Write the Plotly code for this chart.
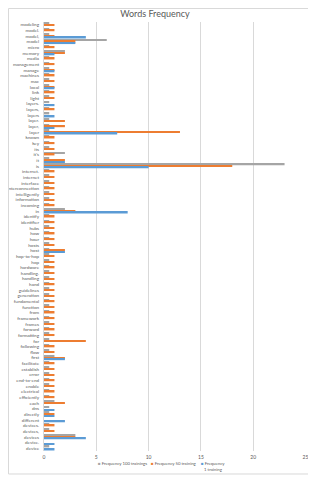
import plotly.graph_objects as go

categories = [
    "modeling", "model.", "model,", "model", "micro", "memory", "media", "management",
    "manage", "machines", "mac", "local", "link", "light", "layers.", "layers,", "layers",
    "layer.", "layer,", "layer", "known", "key", "its", "it's", "it", "is", "internet.",
    "internet", "interface", "interconnection", "intelligently", "information", "incoming",
    "in", "identify", "identifier", "hubs", "how", "hour", "hosts", "host", "hop-to-hop",
    "hop", "hardware", "handling.", "handling", "hand", "guidelines", "generation",
    "fundamental", "function", "from", "framework", "frames", "forward", "formatting",
    "for", "following", "flow", "first", "facilitate", "establish", "error", "end-to-end",
    "enable", "electrical", "efficiently", "each", "dns", "directly", "different",
    "devices.", "devices,", "devices", "device.", "device",
]

freq_100 = [
    0.5, 0.5, 0.5, 6, 0.5, 2, 0.5, 0.5, 0.5, 0.5, 0.5, 0.5, 0.5, 0.5, 0.5, 0.5, 0.5,
    0.5, 0.5, 0.5, 0.5, 0.5, 0.5, 2, 0.5, 23, 0.5, 0.5, 0.5, 0.5, 0.5, 0.5, 0.5,
    2, 0.5, 0.5, 0.5, 0.5, 0.5, 0.5, 0.5, 0.5, 0.5, 0.5, 0.5, 0.5, 0.5, 0.5, 0.5,
    0.5, 0.5, 0.5, 0.5, 0.5, 0.5, 0.5, 0.5, 0.5, 0.5, 1, 0.5, 0.5, 0.5, 0.5,
    0.5, 0.5, 0.5, 1, 0.5, 0.5, 0, 0.5, 0.5, 3, 0, 0.5,
]

freq_50 = [
    1, 1, 1, 3, 1, 2, 1, 1, 1, 1, 1, 1, 1, 1, 0, 1, 0,
    2, 2, 13, 1, 1, 1, 1, 2, 18, 1, 1, 1, 1, 1, 1, 1,
    3, 1, 1, 1, 1, 1, 1, 2, 1, 1, 1, 1, 1, 1, 1, 1,
    1, 1, 1, 1, 1, 1, 1, 4, 1, 1, 2, 1, 1, 1, 1,
    1, 1, 1, 2, 0, 1, 0, 1, 1, 3, 0, 0,
]

freq_1 = [
    0, 0, 4, 3, 0, 1, 0, 0, 1, 0, 0, 1, 0, 0, 1, 0, 1,
    0, 1, 7, 0, 0, 0, 0, 2, 10, 0, 0, 0, 0, 0, 0, 0,
    8, 0, 0, 0, 0, 0, 0, 2, 0, 0, 0, 0, 0, 0, 0, 0,
    0, 0, 0, 0, 0, 0, 0, 0, 0, 0, 2, 0, 0, 0, 0,
    0, 0, 0, 0, 1, 1, 2, 0, 0, 4, 1, 1,
]

series_names = ["Frequency 100 trainings", "Frequency 50 training", "Frequency 1 training"]
x_ticks = [0, 5, 10, 15, 20, 25]

colors = ["#A5A5A5", "#ED7D31", "#5B9BD5"]
FONT = "Lato, 'Open Sans', sans-serif"

fig = go.Figure()
for name, vals, col in zip(series_names, [freq_100, freq_50, freq_1], colors):
    fig.add_trace(go.Bar(
        y=categories, x=vals, name=name, orientation="h",
        marker=dict(color=col, line=dict(width=0)),
        showlegend=False,
    ))

# the page body adds an 8px offset, so the figure is sized to fit the window
fig.update_layout(
    width=308, height=472,
    margin=dict(l=36, r=10, t=14, b=29),
    paper_bgcolor="white", plot_bgcolor="white",
    barmode="group", bargap=0.18, bargroupgap=0,
    font=dict(family=FONT, color="#595959"),
    title=dict(text="Words Frequency", x=0.477, xanchor="center", y=0.9875, yanchor="middle",
               font=dict(size=9, color="#595959", family=FONT), automargin=False),
    xaxis=dict(range=[0, 25.05], tickvals=x_ticks, showgrid=True, gridcolor="#D9D9D9",
               gridwidth=1, zeroline=False, showline=False, ticks="", automargin=False,
               tickfont=dict(size=5, color="#595959"), ticklabelstandoff=2),
    yaxis=dict(type="category", autorange="reversed", showgrid=False, zeroline=False,
               showline=True, linecolor="#D9D9D9", ticks="", tickmode="linear",
               automargin=False,
               tickfont=dict(size=4.6, color="#595959"), ticklabelstandoff=3),
)

# chart area border
fig.add_shape(type="rect", xref="paper", yref="paper",
              x0=-0.1355, x1=1.019, y0=-0.0536, y1=1.0315,
              line=dict(color="#D9D9D9", width=1), fillcolor="rgba(0,0,0,0)")

# legend (as annotations, Excel style with small squares)
leg = [
    (0.197, series_names[0], colors[0]),
    (0.400, series_names[1], colors[1]),
]
for x, name, col in leg:
    fig.add_annotation(
        xref="paper", yref="paper", x=x, y=-0.030, xanchor="left", yanchor="middle",
        text=f"<span style='color:{col}'>■</span> {name}", showarrow=False,
        font=dict(size=4.3, color="#595959", family=FONT),
    )
fig.add_annotation(
    xref="paper", yref="paper", x=0.591, y=-0.030, xanchor="left", yanchor="middle",
    text=f"<span style='color:{colors[2]}'>■</span> Frequency", showarrow=False,
    font=dict(size=4.3, color="#595959", family=FONT),
)
fig.add_annotation(
    xref="paper", yref="paper", x=0.603, y=-0.044, xanchor="left", yanchor="middle",
    text="1 training", showarrow=False,
    font=dict(size=4.3, color="#595959", family=FONT),
)

fig.write_html("out.html")
